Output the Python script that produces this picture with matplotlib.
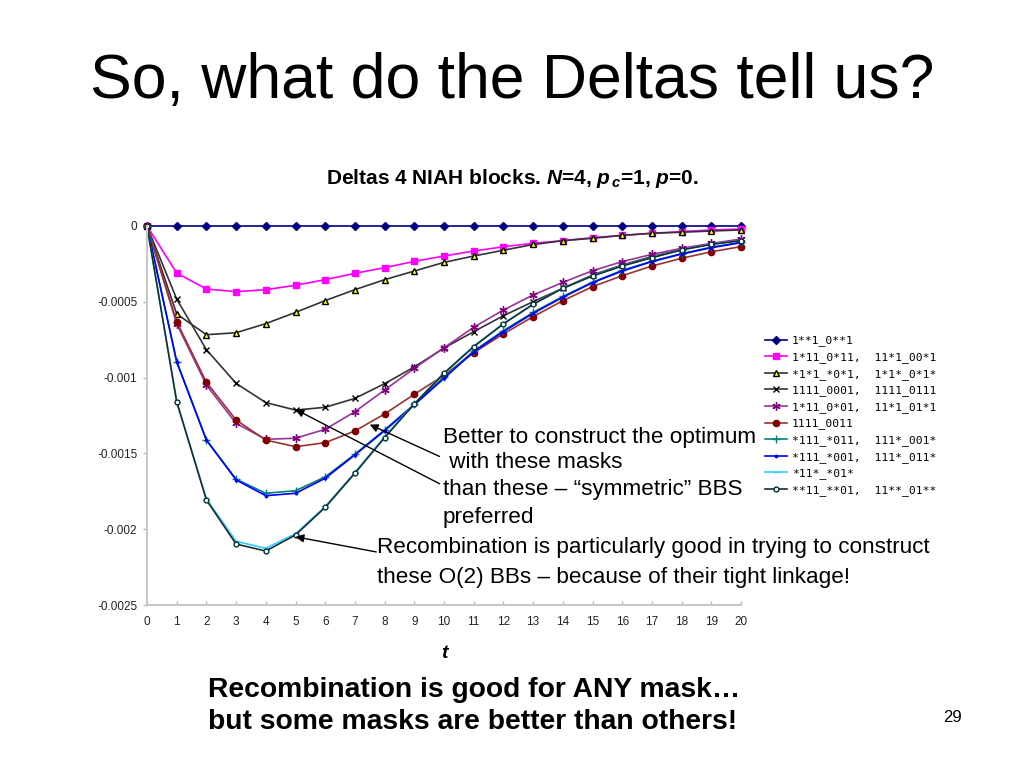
"""
Slide: what do the Deltas tell us (NIAH blocks, N=4)
"""
import matplotlib
matplotlib.use('Agg')
import matplotlib.pyplot as plt


# Data
t = [0, 1, 2, 3, 4, 5, 6, 7, 8, 9, 10, 11, 12, 13, 14, 15, 16, 17, 18, 19, 20]

mask_labels = [
    '1**1_0**1',
    '1*11_0*11,  11*1_00*1',
    '*1*1_*0*1,  1*1*_0*1*',
    '1111_0001,  1111_0111',
    '1*11_0*01,  11*1_01*1',
    '1111_0011',
    '*111_*011,  111*_001*',
    '*111_*001,  111*_011*',
    '*11*_*01*',
    '**11_**01,  11**_01**',
]

d_1001 = [0, 0, 0, 0, 0, 0, 0, 0, 0, 0, 0, 0, 0, 0, 0, 0, 0, 0, 0, 0, 0]
d_1011 = [0, -0.000310, -0.000416, -0.000433, -0.000420, -0.000391, -0.000354,
          -0.000312, -0.000275, -0.000233, -0.000198, -0.000165, -0.000137,
          -0.000114, -0.000097, -0.000077, -0.000062, -0.000048, -0.000037,
          -0.000026, -0.000020]
d_x1x1 = [0, -0.000580, -0.000717, -0.000704, -0.000644, -0.000570, -0.000492,
          -0.000420, -0.000354, -0.000297, -0.000240, -0.000198, -0.000160,
          -0.000122, -0.000097, -0.000081, -0.000062, -0.000048, -0.000041,
          -0.000033, -0.000026]
d_0001 = [0, -0.000482, -0.000816, -0.001038, -0.001165, -0.001214, -0.001196,
          -0.001137, -0.001040, -0.000930, -0.000805, -0.000697, -0.000592,
          -0.000499, -0.000411, -0.000323, -0.000257, -0.000202, -0.000154,
          -0.000119, -0.000092]
d_1x01 = [0, -0.000645, -0.001049, -0.001302, -0.001407, -0.001400, -0.001341,
          -0.001225, -0.001082, -0.000939, -0.000803, -0.000668, -0.000554,
          -0.000455, -0.000372, -0.000295, -0.000235, -0.000187, -0.000147,
          -0.000115, -0.000086]
d_0011 = [0, -0.000631, -0.001031, -0.001280, -0.001412, -0.001456, -0.001429,
          -0.001352, -0.001240, -0.001110, -0.000985, -0.000836, -0.000712,
          -0.000598, -0.000493, -0.000400, -0.000328, -0.000264, -0.000213,
          -0.000170, -0.000136]
d_x011 = [0, -0.000895, -0.001412, -0.001670, -0.001763, -0.001746, -0.001655,
          -0.001505, -0.001345, -0.001175, -0.000995, -0.000825, -0.000690,
          -0.000570, -0.000465, -0.000370, -0.000293, -0.000232, -0.000182,
          -0.000140, -0.000108]
d_x001 = [0, -0.000895, -0.001412, -0.001675, -0.001779, -0.001763, -0.001664,
          -0.001510, -0.001350, -0.001180, -0.001005, -0.000829, -0.000697,
          -0.000576, -0.000470, -0.000374, -0.000297, -0.000235, -0.000185,
          -0.000143, -0.000110]
d_x01x = [0, -0.001159, -0.001800, -0.002080, -0.002126, -0.002030, -0.001850,
          -0.001625, -0.001390, -0.001170, -0.000968, -0.000793, -0.000643,
          -0.000515, -0.000410, -0.000328, -0.000262, -0.000208, -0.000157,
          -0.000120, -0.000096]
d_xx01 = [0, -0.001159, -0.001807, -0.002098, -0.002144, -0.002038, -0.001856,
          -0.001631, -0.001396, -0.001174, -0.000972, -0.000796, -0.000646,
          -0.000517, -0.000411, -0.000330, -0.000264, -0.000209, -0.000158,
          -0.000121, -0.000097]

series = [d_1001, d_1011, d_x1x1, d_0001, d_1x01, d_0011,
          d_x011, d_x001, d_x01x, d_xx01]

y_ticks = [0, -0.0005, -0.001, -0.0015, -0.002, -0.0025]
y_tick_labels = ['0', '-0.0005', '-0.001', '-0.0015', '-0.002', '-0.0025']

# Excel-like styles: (line colour, marker, marker face, marker edge, size)
estilos = [
    ('#000080', 'D', '#000080', '#000080', 4.0),
    ('#FF00FF', 's', '#FF00FF', '#FF00FF', 4.5),
    ('#333333', '^', '#FFFF00', '#000000', 4.5),
    ('#333333', 'x', 'none', '#000000', 5.0),
    ('#993399', (6, 2, 0), 'none', '#800080', 6.0),
    ('#993333', 'o', '#800000', '#800000', 4.5),
    ('#008080', '+', 'none', '#008080', 6.0),
    ('#0000FF', '.', '#0000FF', '#0000FF', 3.5),
    ('#33CCFF', '_', 'none', '#33CCFF', 5.0),
    ('#1A2E2E', 'o', '#FFFFFF', '#003333', 3.5),
]

plt.rcParams['font.family'] = ['Liberation Sans', 'DejaVu Sans']
plt.rcParams['mathtext.fontset'] = 'custom'
plt.rcParams['mathtext.it'] = 'Liberation Sans:italic:bold'
plt.rcParams['mathtext.rm'] = 'Liberation Sans:bold'

fig = plt.figure(figsize=(10.24, 7.68), dpi=100, facecolor='white')

# Slide title
fig.text(512 / 1024, 1 - 82 / 768, 'So, what do the Deltas tell us?',
         fontsize=45, ha='center', va='center', color='black')

# Chart area
ax = fig.add_axes([147 / 1024, 163 / 768, 594 / 1024, 379 / 768])
lineas = []
for datos, etiqueta, (color, marker, mfc, mec, ms) in zip(series, mask_labels, estilos):
    linea, = ax.plot(t, datos, color=color, marker=marker, markerfacecolor=mfc,
                     markeredgecolor=mec, markersize=ms, linewidth=1.2,
                     markeredgewidth=1.0, label=etiqueta, clip_on=False)
    lineas.append(linea)

ax.set_xlim(0, 20)
ax.set_ylim(-0.0025, 0)
ax.set_xticks(t)
ax.set_xticklabels([str(v) for v in t], fontsize=8.5)
ax.set_yticks(y_ticks)
ax.set_yticklabels(y_tick_labels, fontsize=8.5)
ax.tick_params(axis='both', length=3, color='#BBBBBB', width=1, pad=4,
               labelcolor='#222222')
ax.tick_params(axis='x', direction='in', pad=8)
for lado in ['top', 'right']:
    ax.spines[lado].set_visible(False)
for lado in ['left', 'bottom']:
    ax.spines[lado].set_color('#C8C8C8')
    ax.spines[lado].set_linewidth(1.5)

ax.set_xlabel('t', fontsize=14, fontweight='bold', style='italic', labelpad=12)

# Chart title
fig.text(512 / 1024, 1 - 179 / 768,
         r'Deltas 4 NIAH blocks. $N$=4, $p_{\,c}$=1, $p$=0.',
         fontsize=15, ha='center', va='center', fontweight='bold')

# Legend
fig.legend(handles=lineas, loc='upper left',
           bbox_to_anchor=(760 / 1024, 1 - 331 / 768), frameon=False,
           prop={'family': 'DejaVu Sans Mono', 'size': 8.2},
           handlelength=2.0, handletextpad=0.4, labelspacing=0.5,
           borderaxespad=0)

# Annotations
anota = dict(fontsize=16.2, ha='left', va='center', color='black')
fig.text(443 / 1024, 1 - 437 / 768, 'Better to construct the optimum', **anota)
fig.text(443 / 1024, 1 - 463 / 768, ' with these masks', **anota)
fig.text(443 / 1024, 1 - 490 / 768, 'than these \u2013 \u201csymmetric\u201d BBS', **anota)
fig.text(443 / 1024, 1 - 517 / 768, 'preferred', **anota)
fig.text(377 / 1024, 1 - 548 / 768,
         'Recombination is particularly good in trying to construct', **anota)
fig.text(377 / 1024, 1 - 577 / 768,
         'these O(2) BBs \u2013 because of their tight linkage!', **anota)

flecha = dict(arrowstyle='-|>', color='black', lw=1.0, mutation_scale=12,
              shrinkA=0, shrinkB=0)
ax.annotate('', xy=(7.5, -0.00131), xytext=(9.85, -0.00152),
            arrowprops=flecha)
ax.annotate('', xy=(5.0, -0.00121), xytext=(9.85, -0.00170),
            arrowprops=flecha)
ax.annotate('', xy=(5.0, -0.00205), xytext=(7.72, -0.00215),
            arrowprops=flecha, annotation_clip=False)

# Bottom message and page number
fig.text(208 / 1024, 1 - 690 / 768, 'Recombination is good for ANY mask\u2026',
         fontsize=20.3, fontweight='bold', ha='left', va='center')
fig.text(208 / 1024, 1 - 722 / 768, 'but some masks are better than others!',
         fontsize=20.3, fontweight='bold', ha='left', va='center')
fig.text(953 / 1024, 1 - 717 / 768, '29', fontsize=12, ha='center', va='center')

fig.savefig('out.png', dpi=100, facecolor='white')
plt.close(fig)
